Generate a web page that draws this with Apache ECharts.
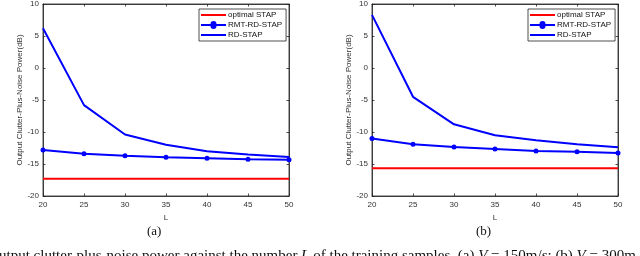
<!DOCTYPE html>
<html><head><meta charset="utf-8">
<script src="https://cdn.jsdelivr.net/npm/echarts@6/dist/echarts.min.js"></script>
<style>html,body{margin:0;padding:0;background:#fff}#c{width:640px;height:256px}</style>
</head><body><div id="c"></div>
<script>
const L = [20, 25, 30, 35, 40, 45, 50];
const yTicks = [-20, -15, -10, -5, 0, 5, 10];
// panel (a)
const optA = [-17.3, -17.3, -17.3, -17.3, -17.3, -17.3, -17.3];
const rmtA = [-12.8, -13.4, -13.7, -13.95, -14.1, -14.25, -14.35];
const rdA  = [6.2, -5.8, -10.4, -12.0, -13.0, -13.5, -13.9];
// panel (b)
const optB = [-15.65, -15.65, -15.65, -15.65, -15.65, -15.65, -15.65];
const rmtB = [-11.0, -11.9, -12.35, -12.65, -12.95, -13.1, -13.3];
const rdB  = [8.3, -4.5, -8.8, -10.5, -11.3, -11.9, -12.4];
const names = ['optimal STAP', 'RMT-RD-STAP', 'RD-STAP'];
const yName = 'Output Clutter-Plus-Noise Power(dB)';
const caption = '{n|utput clutter-plus-noise power against the number }{i|L}{n| of the training samples. (a) }{i|V}{n| = 150m/}{i|s}{n|; (b) }{i|V}{n| = 300m}';

const chart = echarts.init(document.getElementById('c'), null, {renderer: 'canvas'});
const F = 'Liberation Sans, Arial, sans-serif';
const SF = '"Liberation Serif", "Times New Roman", serif';
const tc = '#333';
const grids = [
  {left: 43, top: 3, width: 246, height: 193, show: true, borderColor: '#222', borderWidth: 0.8},
  {left: 372, top: 3, width: 246, height: 193, show: true, borderColor: '#222', borderWidth: 0.8}
];
function xAx(g, main) {
  return {type: 'value', gridIndex: g, min: 20, max: 50, interval: 5,
    position: main ? 'bottom' : 'top',
    name: main ? 'L' : '', nameLocation: 'middle', nameGap: 15,
    nameTextStyle: {fontFamily: F, fontSize: 8, color: tc},
    axisLine: {show: true, onZero: false, lineStyle: {color: '#222', width: 0.8}},
    axisTick: {show: true, inside: true, length: 2.5, lineStyle: {color: '#222', width: 0.8}},
    axisLabel: {show: main, fontFamily: F, fontSize: 8, color: tc, margin: 5},
    splitLine: {show: false}};
}
function yAx(g, main, gap) {
  return {type: 'value', gridIndex: g, min: -20, max: 10, interval: 5,
    position: main ? 'left' : 'right',
    name: main ? yName : '', nameLocation: 'middle', nameGap: gap,
    nameTextStyle: {fontFamily: F, fontSize: 8, color: tc},
    axisLine: {show: true, onZero: false, lineStyle: {color: '#222', width: 0.8}},
    axisTick: {show: true, inside: true, length: 2.5, lineStyle: {color: '#222', width: 0.8}},
    axisLabel: {show: main, fontFamily: F, fontSize: 8, color: tc, margin: 4},
    splitLine: {show: false}};
}
function mk(data) { return L.map((x, i) => [x, data[i]]); }
function seriesFor(g, opt, rmt, rd) {
  return [
    {name: names[0], type: 'line', xAxisIndex: g * 2, yAxisIndex: g * 2, data: mk(opt),
      symbol: 'none', lineStyle: {color: '#ff0000', width: 2}, itemStyle: {color: '#ff0000'}},
    {name: names[1], type: 'line', xAxisIndex: g * 2, yAxisIndex: g * 2, data: mk(rmt),
      symbol: 'circle', symbolSize: 5, lineStyle: {color: '#0000ff', width: 2}, itemStyle: {color: '#0000ff'}},
    {name: names[2], type: 'line', xAxisIndex: g * 2, yAxisIndex: g * 2, data: mk(rd),
      symbol: 'none', lineStyle: {color: '#0000ff', width: 2}, itemStyle: {color: '#0000ff'}}
  ];
}
const lineIcon = 'path://M0,0L0,0M0,3L25,3L25,5L0,5ZM25,8L25,8';
const dotIcon = 'path://M0,0L0,0M0,3L9.5,3A3,3,0,0,1,15.5,3L25,3L25,5L15.5,5A3,3,0,0,1,9.5,5L0,5ZM25,8L25,8';
function legend(left) {
  return {orient: 'vertical', left: left, top: 9,
    data: [{name: names[0], icon: lineIcon}, {name: names[1], icon: dotIcon}, {name: names[2], icon: lineIcon}],
    backgroundColor: '#fff', borderColor: '#222', borderWidth: 0.8, padding: [2, 4, 2, 2],
    itemGap: 2, itemWidth: 25, itemHeight: 8,
    textStyle: {fontFamily: F, fontSize: 8, color: '#111', padding: [0, 0, 0, -3]}};
}
chart.setOption({
  animation: false,
  grid: grids,
  xAxis: [xAx(0, true), xAx(0, false), xAx(1, true), xAx(1, false)],
  yAxis: [yAx(0, true, 16), yAx(0, false), yAx(1, true, 15), yAx(1, false)],
  legend: [legend(199), legend(528)],
  series: [...seriesFor(0, optA, rmtA, rdA), ...seriesFor(1, optB, rmtB, rdB)].map((s, i) => {
    const g = i < 3 ? 0 : 1;
    return Object.assign({}, s, {xAxisIndex: g * 2, yAxisIndex: g * 2});
  }),
  graphic: [
    {type: 'text', left: 147, top: 225, style: {text: '(a)', font: '13px ' + SF, fill: '#111'}},
    {type: 'text', left: 476, top: 225, style: {text: '(b)', font: '13px ' + SF, fill: '#111'}},
    {type: 'text', left: -1, top: 249, style: {text: caption, fill: '#111',
      font: '15px ' + SF,
      rich: {n: {fontFamily: SF, fontSize: 15, fill: '#111'},
             i: {fontFamily: SF, fontSize: 15, fontStyle: 'italic', fill: '#111'}}}}
  ]
});
</script></body></html>
